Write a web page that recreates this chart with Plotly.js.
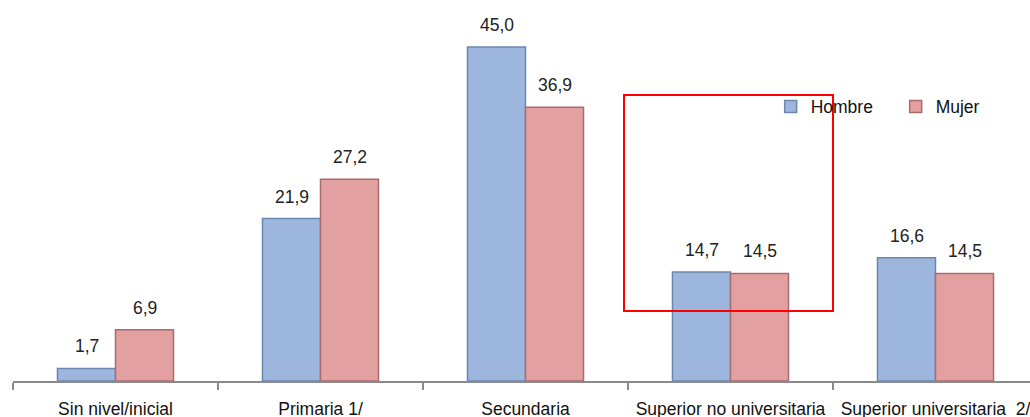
<!DOCTYPE html>
<html>
<head>
<meta charset="utf-8">
<script src="https://cdn.plot.ly/plotly-3.0.1.min.js"></script>
<style>html,body{margin:0;padding:0;background:#fff;}#chart{width:1030px;height:417px;}</style>
</head>
<body>
<div id="chart"></div>
<script>
var categories = ["Sin nivel/inicial", "Primaria 1/", "Secundaria", "Superior no universitaria", "Superior universitaria  2/"];
var hombre = [1.7, 21.9, 45.0, 14.7, 16.6];
var mujer = [6.9, 27.2, 36.9, 14.5, 14.5];
var seriesNames = ["Hombre", "Mujer"];

var FONT = '"Liberation Sans Narrow", "Arial Narrow", "Liberation Sans", Arial, sans-serif';
function fmt(v){ return v.toFixed(1).replace('.', ','); }

var traces = [
  {type:'bar', name:seriesNames[0], x:categories, y:hombre,
   marker:{color:'#9cb6de', line:{color:'#6d86ae', width:1.5}}, hoverinfo:'none'},
  {type:'bar', name:seriesNames[1], x:categories, y:mujer,
   marker:{color:'#e2a0a1', line:{color:'#a76c6d', width:1.5}}, hoverinfo:'none'}
];

var annotations = [];
[hombre, mujer].forEach(function(arr, si){
  arr.forEach(function(v, i){
    annotations.push({x:categories[i], y:v, xref:'x', yref:'y', text:fmt(v), showarrow:false,
      xshift: si===0 ? -29 : 29, yshift: 22, font:{family:FONT, size:17.5, color:'#222'}});
  });
});

var layout = {
  width:1030, height:417,
  margin:{l:13, r:0, t:0, b:36, autoexpand:false},
  paper_bgcolor:'#fff', plot_bgcolor:'#fff',
  barmode:'group', bargap:0.434, bargroupgap:0,
  xaxis:{range:[-0.5, 4.461], showgrid:false, zeroline:false, showline:true, linecolor:'#8a8a8a', linewidth:1.5,
    ticks:'outside', tickson:'boundaries', ticklen:7, tickcolor:'#8a8a8a', tickwidth:1.5,
    tickangle:0, automargin:false, ticklabelstandoff:11,
    tickfont:{family:FONT, size:17.5, color:'#111'}, fixedrange:true},
  yaxis:{range:[0, 51.35], visible:false, showgrid:false, zeroline:false, fixedrange:true},
  showlegend:true,
  legend:{orientation:'h', x:0.745, y:0.72, xanchor:'left', yanchor:'middle', entrywidth:80,
    font:{family:FONT, size:17.5, color:'#111'}, bgcolor:'rgba(0,0,0,0)', itemwidth:30},
  annotations:annotations,
  shapes:[{type:'rect', xref:'paper', yref:'paper', x0:(624-13)/1017, x1:(833-13)/1017,
    y0:1-311/381, y1:1-95/381, line:{color:'#ff0000', width:2}, fillcolor:'rgba(0,0,0,0)'}]
};

Plotly.newPlot('chart', traces, layout, {displayModeBar:false, staticPlot:true});
</script>
</body>
</html>
